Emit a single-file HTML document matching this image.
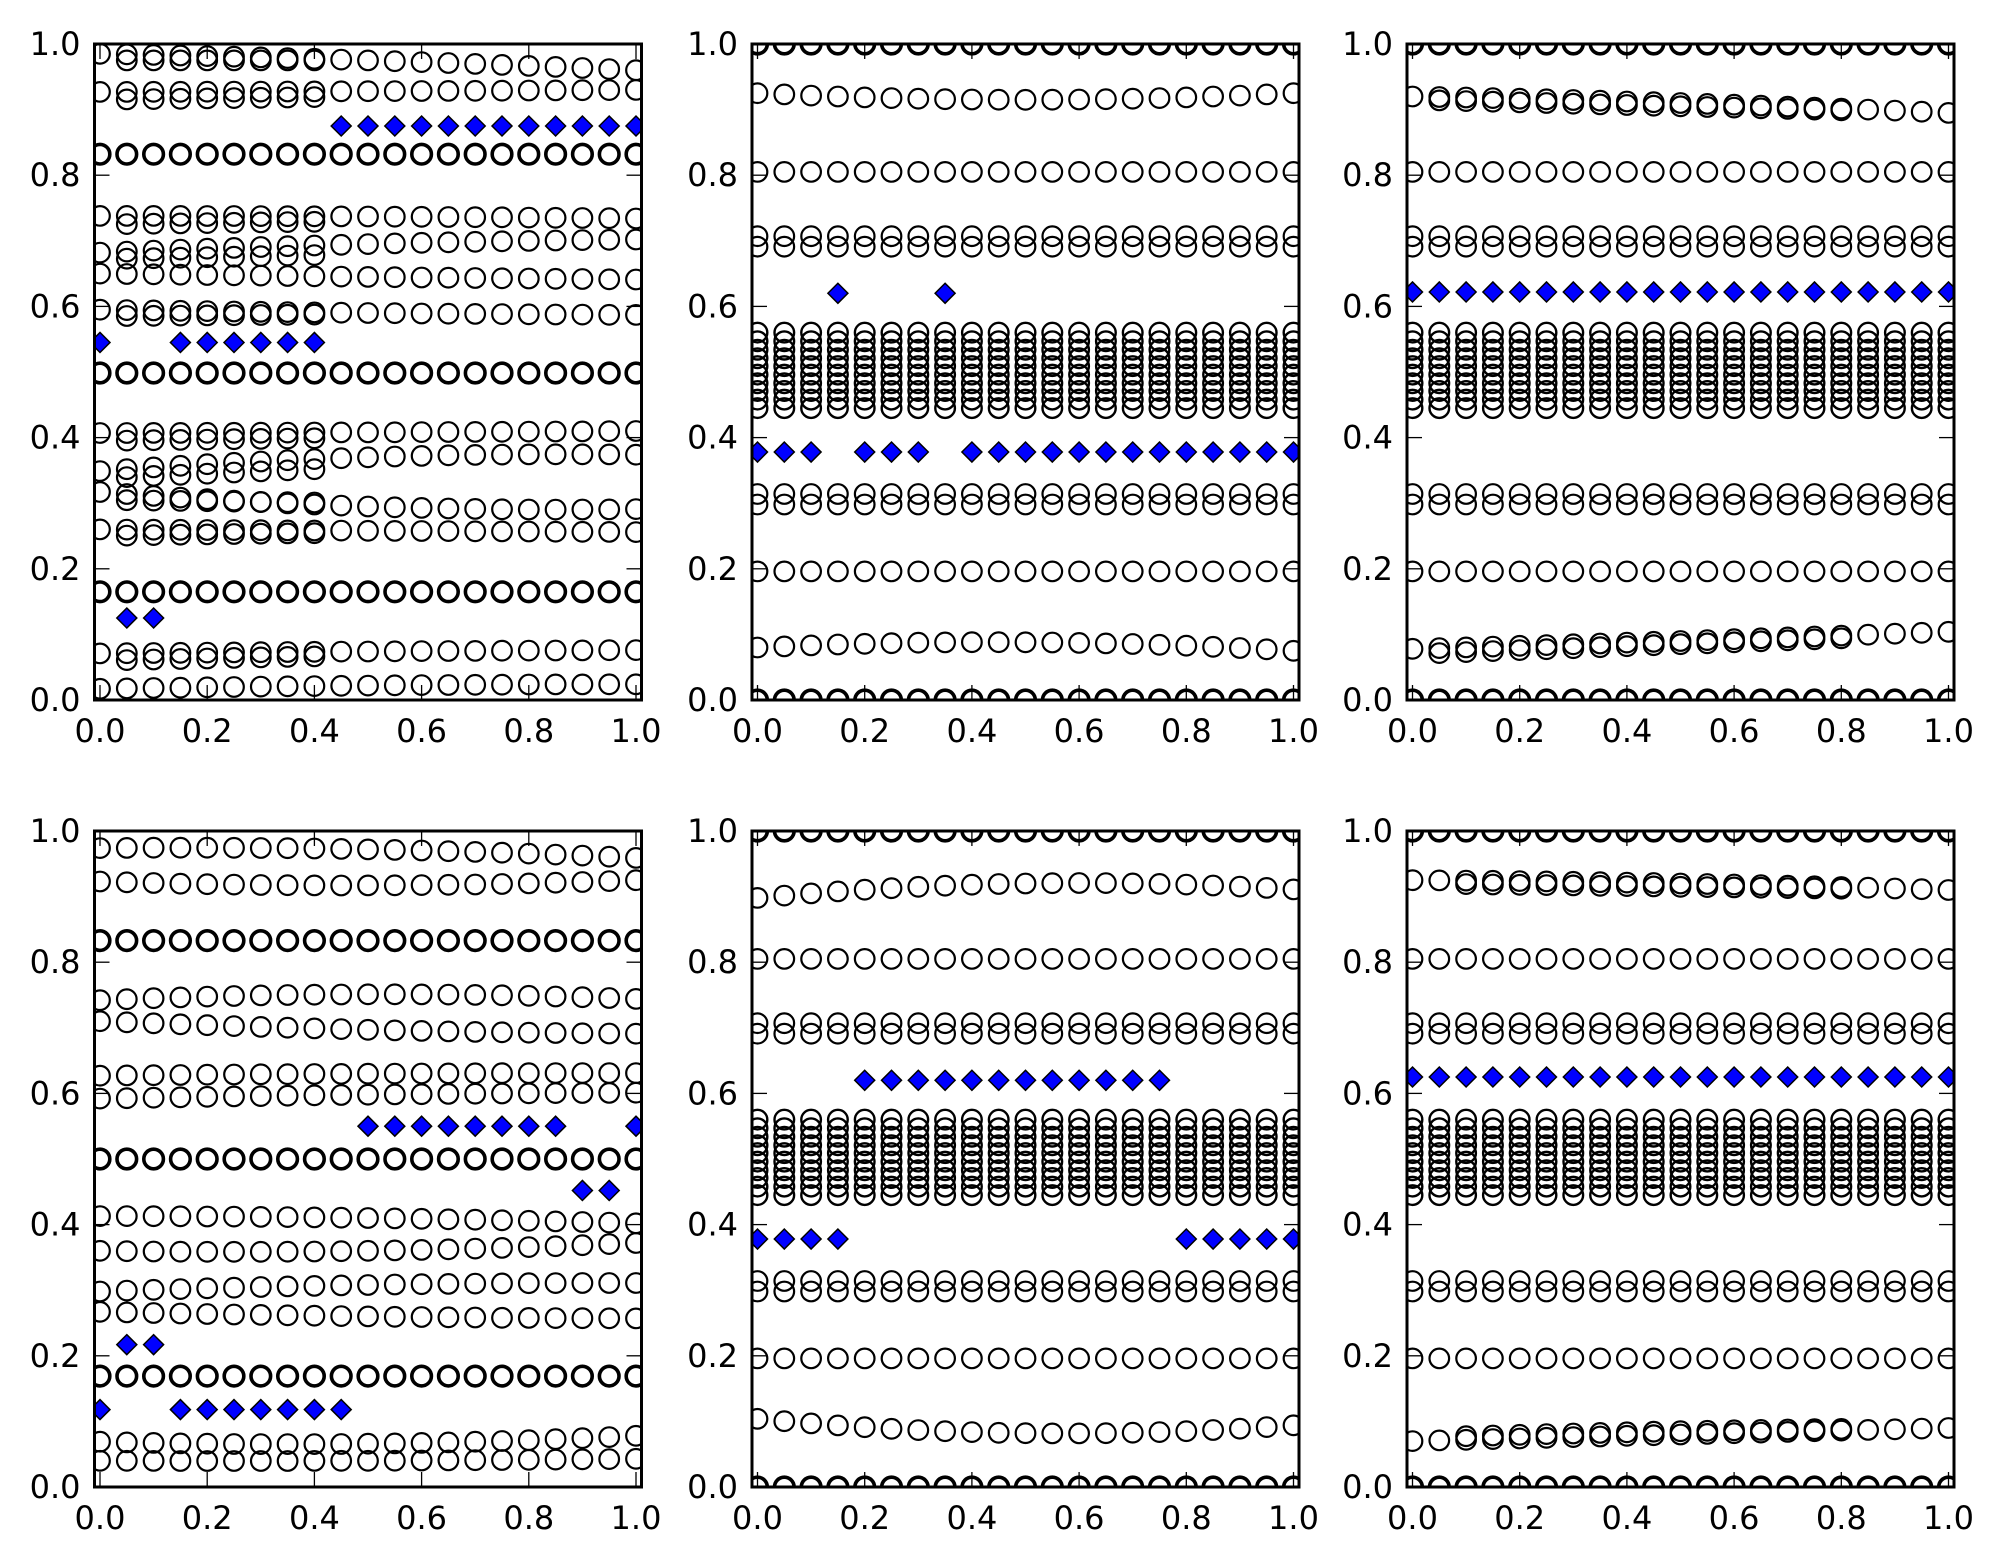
<!DOCTYPE html>
<html><head><meta charset="utf-8">
<style>
html,body{margin:0;padding:0;background:#fff;}
svg{display:block;}
text{font-family:"DejaVu Sans","Liberation Sans",sans-serif;font-size:32px;fill:#000;}
</style></head>
<body>
<svg id="s" width="2004" height="1565" xmlns="http://www.w3.org/2000/svg">
<g id="labels">
<text x="737" y="59" text-anchor="end">1.0</text>
</g>
</svg>
<script>
(function(){
var NS="http://www.w3.org/2000/svg";
var svg=document.getElementById('s');
var lab=document.getElementById('labels');
lab.innerHTML='';
var axes=[
 {L:94.5,T:44},{L:752,T:44},{L:1407,T:44},
 {L:94.5,T:831},{L:752,T:831},{L:1407,T:831}];
var W=547,H=656;
var band=[0.56,0.547,0.534,0.521,0.509,0.496,0.483,0.471,0.458,0.445];
var DW=2.2,BW=3.6;
function R(a,b,c,w,x0,x1){return {a:a,b:(b==null?(a+c)/2:b),c:c,w:w||DW,x0:x0==null?0:x0,x1:x1==null?1:x1};}
function D(y,xs){return {y:y,xs:xs};}
function rng(a,b){var r=[];for(var i=Math.round(a*20);i<=Math.round(b*20);i++)r.push(i/20);return r;}
var common=function(extra){
  var r=[R(1,1,1,BW),R(0.805,0.805,0.805),R(0.707,0.707,0.707),R(0.691,0.691,0.691),
   R(0.314,0.314,0.314),R(0.298,0.298,0.298),R(0.196,0.196,0.196),R(0,0,0,BW)];
  band.forEach(function(y){r.push(R(y,y,y,2.4));});
  return r.concat(extra);
};
var data=[
 {rows:[R(0.985,0.975,0.96),R(0.975,0.975,0.975,DW,0.05,0.4),R(0.927,0.928,0.930),R(0.915,0.92,0.925,DW,0.05,0.4),
  R(0.832,0.832,0.832,BW),R(0.738,0.737,0.734),R(0.725,0.73,0.735,DW,0.05,0.4),R(0.682,0.695,0.702),R(0.672,0.68,0.69,DW,0.05,0.4),
  R(0.650,0.645,0.641),R(0.595,0.59,0.587),R(0.585,0.588,0.59,DW,0.05,0.4),R(0.4985,0.4985,0.4985,BW),
  R(0.407,0.408,0.41),R(0.395,0.4,0.405,DW,0.05,0.4),R(0.349,0.37,0.374),R(0.338,0.355,0.37,DW,0.05,0.4),
  R(0.317,0.295,0.291),R(0.305,0.3,0.295,DW,0.05,0.4),R(0.26,0.258,0.256),R(0.25,0.255,0.256,DW,0.05,0.4),
  R(0.165,0.165,0.165,BW),R(0.071,0.074,0.076),R(0.06,0.068,0.075,DW,0.05,0.4),R(0.017,0.022,0.024)],
  dia:[D(0.875,rng(0.45,1)),D(0.545,[0].concat(rng(0.15,0.4))),D(0.125,[0.05,0.1])]},
 {rows:common([R(0.925,0.915,0.925),R(0.08,0.088,0.075)]),
  dia:[D(0.62,[0.15,0.35]),D(0.378,[0,0.05,0.1,0.2,0.25,0.3].concat(rng(0.4,1)))]},
 {rows:common([R(0.92,0.91,0.895),R(0.915,0.905,0.895,DW,0.05,0.8),R(0.078,0.09,0.104),R(0.07,0.085,0.1,DW,0.05,0.8)]),
  dia:[D(0.622,rng(0,1))]},
 {rows:[R(0.974,0.972,0.959),R(0.923,0.917,0.925),R(0.833,0.833,0.833,BW),R(0.742,0.751,0.744),R(0.710,0.697,0.691),
  R(0.627,0.630,0.631),R(0.592,0.598,0.601),R(0.5,0.5,0.5,BW),R(0.413,0.41,0.402),R(0.36,0.36,0.372),
  R(0.298,0.308,0.311),R(0.267,0.26,0.257),R(0.169,0.169,0.169,BW),R(0.069,0.066,0.078),R(0.040,0.040,0.043)],
  dia:[D(0.55,rng(0.5,0.85).concat([1])),D(0.452,[0.9,0.95]),D(0.217,[0.05,0.1]),D(0.118,[0].concat(rng(0.15,0.45)))]},
 {rows:common([R(0.898,0.92,0.911),R(0.104,0.082,0.094)]),
  dia:[D(0.62,rng(0.2,0.75)),D(0.378,rng(0,0.15).concat(rng(0.8,1)))]},
 {rows:common([R(0.925,0.92,0.91),R(0.92,0.915,0.91,DW,0.1,0.8),R(0.07,0.08,0.09),R(0.075,0.085,0.09,DW,0.1,0.8)]),
  dia:[D(0.625,rng(0,1))]}
];
function el(n,a,p){var e=document.createElementNS(NS,n);for(var k in a)e.setAttribute(k,a[k]);(p||svg).appendChild(e);return e;}
var defs=el('defs',{});
axes.forEach(function(ax,i){
  var L=ax.L,T=ax.T,B=T+H,Rr=L+W;
  var cp=el('clipPath',{id:'c'+i},defs);el('rect',{x:L,y:T,width:W,height:H},cp);
  var g=el('g',{'clip-path':'url(#c'+i+')'});
  function px(x){return L+5.5+x*536;}
  function py(y){return B-y*H;}
  var d=data[i];
  d.rows.forEach(function(r){
    for(var k=0;k<=20;k++){var x=k/20;if(x<r.x0-1e-9||x>r.x1+1e-9)continue;
      var y=r.a*(1-x)*(1-2*x)+r.b*4*x*(1-x)+r.c*x*(2*x-1);
      el('circle',{cx:px(x).toFixed(1),cy:py(y).toFixed(1),r:9.8,fill:'none',stroke:'#000','stroke-width':r.w},g);}
  });
  d.dia.forEach(function(dd){dd.xs.forEach(function(x){var cx=px(x),cy=py(dd.y);
    el('path',{d:'M'+(cx-10)+' '+cy+'L'+cx+' '+(cy-10)+'L'+(cx+10)+' '+cy+'L'+cx+' '+(cy+10)+'Z',fill:'#0000ff',stroke:'#000','stroke-width':1.5},g);});});
  for(var t=0;t<=5;t++){var v=t/5;var X=px(v),Y=py(v);
    el('line',{x1:X,y1:T,x2:X,y2:T+15,stroke:'#000','stroke-width':1.3});
    el('line',{x1:X,y1:B,x2:X,y2:B-15,stroke:'#000','stroke-width':1.3});
    el('line',{x1:L,y1:Y,x2:L+15,y2:Y,stroke:'#000','stroke-width':1.3});
    el('line',{x1:Rr,y1:Y,x2:Rr-15,y2:Y,stroke:'#000','stroke-width':1.3});
    var s=v.toFixed(1);
    var tx=el('text',{x:L-14,y:Y+11,'text-anchor':'end'},lab);tx.textContent=s;
    var tx2=el('text',{x:X,y:B+42,'text-anchor':'middle'},lab);tx2.textContent=s;
  }
  el('rect',{x:L,y:T,width:W,height:H,fill:'none',stroke:'#000','stroke-width':3});
});
svg.appendChild(lab);
})();
</script>
</body></html>
